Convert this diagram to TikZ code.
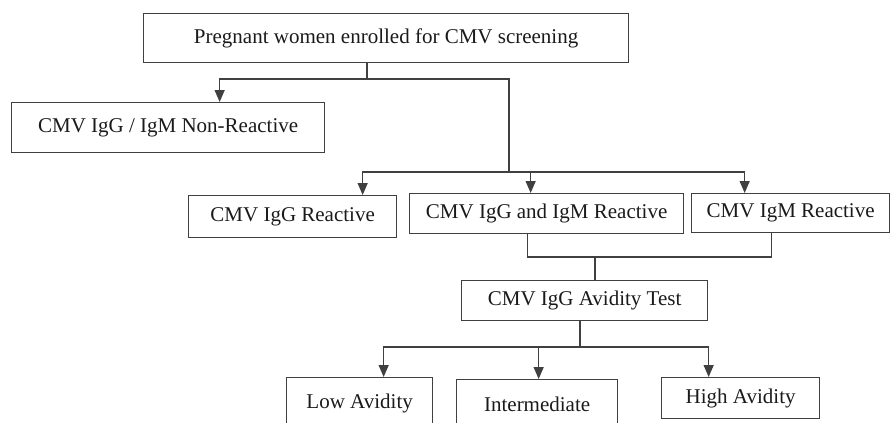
\documentclass[tikz,border=0pt]{standalone}
\usepackage{fontspec}
\setmainfont{Liberation Serif}
\usepackage{tikz}
\usetikzlibrary{arrows.meta}
\definecolor{LineGrey}{HTML}{404040}
\definecolor{InkBlack}{HTML}{1A1A1A}

\begin{document}
\begin{tikzpicture}[x=1pt, y=-1pt,
  box/.style={draw=LineGrey, line width=1.3pt, anchor=north west, inner sep=0pt,
    align=center, text=InkBlack, font=\fontsize{21}{25}\selectfont},
  link/.style={draw=LineGrey, line width=1.3pt},
  arrow/.style={link, -{Triangle[length=12pt, width=10pt]}}
]
\useasboundingbox (0,0) rectangle (892,423);
\clip (0,0) rectangle (892,423);

\node[box, minimum width=485pt, minimum height=49pt] (screen) at (143,13)
  {Pregnant women enrolled for CMV screening};
\node[box, minimum width=313pt, minimum height=50pt] (nonreac) at (11,102)
  {CMV IgG / IgM Non-Reactive};
\node[box, minimum width=208pt, minimum height=42pt] (iggr) at (188,195)
  {CMV IgG Reactive};
\node[box, minimum width=274pt, minimum height=40pt] (both) at (409,193)
  {CMV IgG and IgM Reactive};
\node[box, minimum width=198pt, minimum height=39pt] (igmr) at (691,193)
  {CMV IgM Reactive};
\node[box, minimum width=246pt, minimum height=40pt] (avidity) at (461,280)
  {CMV IgG Avidity Test};
\node[box, minimum width=146pt, minimum height=52pt] (low) at (286,377)
  {Low Avidity};
\node[box, minimum width=161pt, minimum height=50pt] (inter) at (456,379)
  {Intermediate};
\node[box, minimum width=158pt, minimum height=41pt] (high) at (661,377)
  {High Avidity};

% screening split
\coordinate (s1) at (367,79);
\coordinate (s2) at (509,172);
\draw[link] (screen.south -| s1) -- (s1);
\draw[arrow] (s1) -| ([xshift=51.5pt]nonreac.north);
\draw[link] (s1) -| (s2);
\draw[arrow] (s2) -| ([xshift=70pt]iggr.north);
\draw[arrow] (s2) -| ([xshift=-16pt]both.north);
\draw[arrow] (s2) -| ([xshift=-46pt]igmr.north);

% merge into avidity test
\coordinate (m1) at (595,257);
\draw[link] ([xshift=-19pt]both.south) |- (m1) -| ([xshift=-19pt]igmr.south);
\draw[link] (m1) -- (m1 |- avidity.north);

% avidity split
\coordinate (s3) at (580,347);
\draw[link] (avidity.south -| s3) -- (s3);
\draw[arrow] (s3) -| ([xshift=24pt]low.north);
\draw[arrow] (s3) -| ([xshift=1.5pt]inter.north);
\draw[arrow] (s3) -| ([xshift=-32pt]high.north);
\end{tikzpicture}
\end{document}
